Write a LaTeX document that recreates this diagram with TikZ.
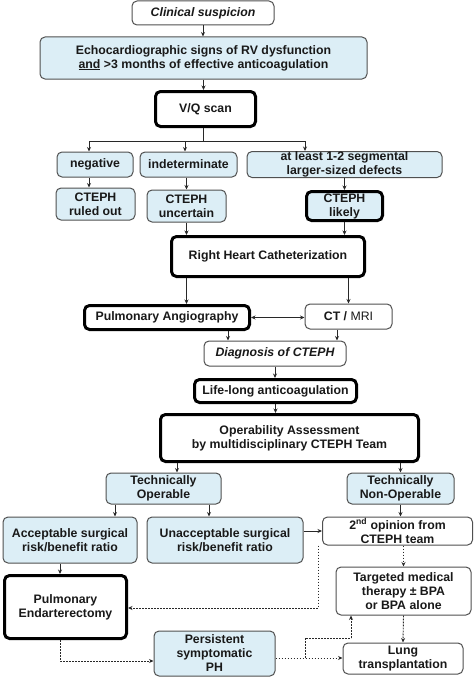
\documentclass[tikz,border=0pt]{standalone}
\usepackage{fontspec}
\setmainfont{Liberation Sans}
\usetikzlibrary{arrows.meta}
\definecolor{boxblue}{RGB}{220,238,246}
\definecolor{edgegray}{RGB}{80,80,80}
\definecolor{linegray}{RGB}{40,40,40}
\tikzset{
  box/.style={rectangle, rounded corners=5pt, draw=edgegray, line width=1pt, fill=white,
    align=center, inner sep=0pt, font=\fontsize{12.3}{14}\selectfont\bfseries, text=black!90},
  bluebox/.style={box, fill=boxblue},
  heavy/.style={draw=black, line width=3pt},
  arr/.style={draw=linegray, line width=0.9pt, -{Stealth[length=4.5pt,width=4pt]}},
  darr/.style={draw=linegray, line width=0.9pt, {Stealth[length=4.5pt,width=4pt]}-{Stealth[length=4.5pt,width=4pt]}},
  plainline/.style={draw=linegray, line width=0.9pt},
  dotarr/.style={draw=linegray, line width=0.9pt, dash pattern=on 1.8pt off 1.2pt, -{Stealth[length=4.5pt,width=4pt]}},
  dotline/.style={draw=linegray, line width=0.9pt, dash pattern=on 1.8pt off 1.2pt},
}
\begin{document}
\begin{tikzpicture}[x=1pt,y=-1pt]
\useasboundingbox (0,0) rectangle (474,677);
% nodes
\node[box, minimum width=142, minimum height=24] (clin) at (203,13) {\itshape Clinical suspicion};
\node[bluebox, minimum width=327, minimum height=42] (echo) at (203.5,58) {Echocardiographic signs of RV dysfunction\\\underline{and} {>}3 months of effective anticoagulation};
\node[box, heavy, minimum width=100, minimum height=35] (vq) at (205.5,109) {V/Q scan};
\node[bluebox, minimum width=76, minimum height=25] (neg) at (95,164.5) {negative};
\node[bluebox, minimum width=97, minimum height=25] (indet) at (188.5,164.5) {indeterminate};
\node[bluebox, minimum width=195, minimum height=26] (atl) at (344.5,164.5) {at least 1-2 segmental\\larger-sized defects};
\node[bluebox, minimum width=79, minimum height=32] (ruled) at (95.5,204) {CTEPH\\ruled out};
\node[bluebox, minimum width=79, minimum height=32] (uncert) at (186.5,206) {CTEPH\\uncertain};
\node[bluebox, heavy, minimum width=76, minimum height=29] (likely) at (344.5,206) {CTEPH\\likely};
\node[box, heavy, minimum width=193, minimum height=40] (rhc) at (268,256.5) {Right Heart Catheterization};
\node[box, heavy, minimum width=165, minimum height=24] (pa) at (167,317.5) {Pulmonary Angiography};
\node[box, minimum width=87, minimum height=25] (ct) at (348.5,316.5) {CT / \mdseries MRI};
\node[box, minimum width=142, minimum height=25] (diag) at (275,353.5) {\itshape Diagnosis of CTEPH};
\node[box, heavy, minimum width=162, minimum height=23] (life) at (275.5,391) {Life-long anticoagulation};
\node[box, heavy, minimum width=258, minimum height=47] (oper) at (289.5,438) {Operability Assessment\\by multidisciplinary CTEPH Team};
\node[bluebox, minimum width=115, minimum height=31] (top) at (163.5,488.5) {Technically\\Operable};
\node[bluebox, minimum width=107, minimum height=31] (tnop) at (400.5,488.5) {Technically\\Non-Operable};
\node[bluebox, minimum width=134, minimum height=46] (acc) at (70,540) {Acceptable surgical\\risk/benefit ratio};
\node[bluebox, minimum width=156, minimum height=46] (unacc) at (225,540) {Unacceptable surgical\\risk/benefit ratio};
\node[box, minimum width=150, minimum height=28] (second) at (397.5,531) {2\textsuperscript{nd} opinion from\\CTEPH team};
\node[box, heavy, minimum width=122, minimum height=63] (pea) at (65.5,607) {Pulmonary\\Endarterectomy};
\node[box, minimum width=135, minimum height=48] (targ) at (403.5,591) {Targeted medical\\therapy \char"00B1\ BPA\\or BPA alone};
\node[bluebox, minimum width=121, minimum height=45] (pers) at (214.5,653.5) {Persistent\\symptomatic\\PH};
\node[box, minimum width=120, minimum height=31] (lung) at (403,658.5) {Lung\\transplantation};
% helper coordinates
\coordinate (j1) at (203,141);
\coordinate (j1L) at (89,141);
\coordinate (j1M) at (185,141);
\coordinate (j1R) at (305,141);
\coordinate (xpa) at (228,0);
\coordinate (xct) at (337,0);
\coordinate (xo1) at (177,0);
\coordinate (xo2) at (115,0);
\coordinate (xo3) at (209,0);
\coordinate (xacc) at (60,0);
\coordinate (xsec) at (318,0);
\coordinate (ysec) at (0,608);
\coordinate (ypea) at (0,661);
\coordinate (bra) at (305,658);
\coordinate (brb) at (305,638);
\coordinate (brc) at (351,638);
% connectors
\draw[arr] (clin.south) -- (clin.south |- echo.north);
\draw[arr] (echo.south) -- (echo.south |- vq.north);
\draw[plainline] (j1 |- vq.south) -- (j1);
\draw[plainline] (j1L) -- (j1R);
\draw[arr] (j1L) -- (j1L |- neg.north);
\draw[arr] (j1M) -- (j1M |- indet.north);
\draw[arr] (j1R) -- (j1R |- atl.north);
\draw[arr] (neg.south -| j1L) -- (ruled.north -| j1L);
\draw[arr] (uncert.north |- indet.south) -- (uncert.north);
\draw[arr] (likely.north |- atl.south) -- (likely.north);
\draw[arr] (uncert.south) -- (uncert.south |- rhc.north);
\draw[arr] (likely.south) -- (likely.south |- rhc.north);
\draw[arr] (rhc.south -| uncert) -- (pa.north -| uncert);
\draw[arr] (ct.north |- rhc.south) -- (ct.north);
\draw[darr] (pa.east) -- (ct.west |- pa.east);
\draw[arr] (pa.south -| xpa) -- (diag.north -| xpa);
\draw[arr] (ct.south -| xct) -- (diag.north -| xct);
\draw[arr] (diag.south) -- (diag.south |- life.north);
\draw[arr] (life.south) -- (life.south |- oper.north);
\draw[arr] (oper.south -| xo1) -- (top.north -| xo1);
\draw[arr] (tnop.north |- oper.south) -- (tnop.north);
\draw[arr] (top.south -| xo2) -- (acc.north -| xo2);
\draw[arr] (top.south -| xo3) -- (unacc.north -| xo3);
\draw[arr] (tnop.south) -- (tnop.south |- second.north);
\draw[arr] (unacc.east |- second.west) -- (second.west);
\draw[arr] (acc.south -| xacc) -- (pea.north -| xacc);
\draw[dotarr] (second.south -| targ) -- (targ.north);
\draw[dotarr] (second.south -| xsec) -- (xsec |- ysec) -- (pea.east |- ysec);
\draw[dotarr] (targ.south) -- (lung.north);
\draw[dotarr] (pea.south -| xacc) -- (xacc |- ypea) -- (pers.west |- ypea);
\draw[dotarr] (pers.east |- bra) -- (lung.west |- bra);
\draw[dotline] (bra) -- (brb) -- (brc);
\draw[dotarr] (brc) -- (brc |- targ.south);
\end{tikzpicture}
\end{document}
